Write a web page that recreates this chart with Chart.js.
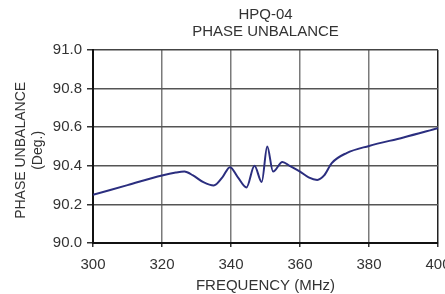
<!DOCTYPE html>
<html>
<head>
<meta charset="utf-8">
<script src="https://cdn.jsdelivr.net/npm/chart.js@4.4.0/dist/chart.umd.min.js"></script>
<style>
  html, body { margin: 0; padding: 0; background: #fff; }
  canvas { display: block; }
</style>
</head>
<body>
<canvas id="chart" width="445" height="294"></canvas>
<script>
// frequency in MHz and phase unbalance in degrees
const freq = [300, 310, 320, 324, 326.5, 329, 332, 335, 337.5, 339.7, 342, 344.5, 346.8, 348.9, 350.5,
              352.2, 354.9, 357, 360, 362.5, 365, 367, 369.2, 373.5, 380, 390, 400];
const phase = [90.25, 90.30, 90.35, 90.365, 90.37, 90.35, 90.315, 90.298, 90.34, 90.393, 90.34, 90.288, 90.40, 90.316, 90.50,
               90.37, 90.42, 90.40, 90.37, 90.34, 90.327, 90.35, 90.414, 90.466, 90.503, 90.547, 90.595];

const xTicks = [300, 320, 340, 360, 380, 400];
const yTicks = [90.0, 90.2, 90.4, 90.6, 90.8, 91.0];

const points = freq.map((f, i) => ({ x: f, y: phase[i] }));
const fontName = "'Liberation Sans', Arial, sans-serif";
const textColor = '#333';

new Chart(document.getElementById('chart'), {
  type: 'line',
  data: {
    datasets: [{
      data: points,
      borderColor: '#2b2e7f',
      borderWidth: 2,
      pointRadius: 0,
      fill: false,
      cubicInterpolationMode: 'monotone'
    }]
  },
  options: {
    responsive: false,
    animation: false,
    layout: { padding: { left: 0, right: 7, top: 0, bottom: 0 } },
    plugins: {
      legend: { display: false },
      tooltip: { enabled: false },
      title: {
        display: true,
        fullSize: false,
        text: ['HPQ-04', 'PHASE UNBALANCE'],
        color: textColor,
        font: { family: fontName, size: 15, weight: 'normal', lineHeight: 17 / 15 },
        padding: { top: 6.5, bottom: 9.5 }
      }
    },
    scales: {
      x: {
        type: 'linear',
        min: 300,
        max: 400,
        afterBuildTicks: (s) => { s.ticks = xTicks.map(v => ({ value: v })); },
        afterFit: (s) => { s.height = 51; s.paddingLeft = 0; s.paddingRight = 0; },
        border: { color: '#111', width: 2 },
        grid: {
          color: (c) => c.tick && c.tick.value === 400 ? '#222' : '#7a7a7a',
          lineWidth: 1.5,
          tickLength: 4,
          tickColor: '#333'
        },
        ticks: {
          color: textColor,
          padding: 9,
          maxRotation: 0,
          font: { family: fontName, size: 15 },
          callback: (v) => String(v)
        },
        title: {
          display: true,
          text: 'FREQUENCY (MHz)',
          color: textColor,
          font: { family: fontName, size: 15, lineHeight: 1 },
          padding: { top: 0, bottom: 0.5 }
        }
      },
      y: {
        min: 90.0,
        max: 91.0,
        afterBuildTicks: (s) => { s.ticks = yTicks.map(v => ({ value: v })); },
        afterFit: (s) => { s.width = 93; s.paddingTop = 0; s.paddingBottom = 0; },
        border: { color: '#111', width: 2 },
        grid: {
          color: (c) => c.tick && c.tick.value === 91 ? '#444' : '#555',
          lineWidth: 1.5,
          tickLength: 6,
          tickColor: '#333'
        },
        ticks: {
          color: textColor,
          padding: 5,
          font: { family: fontName, size: 15 },
          callback: (v) => Number(v).toFixed(1)
        },
        title: {
          display: true,
          // trailing spaces nudge the rotated title a little lower, like the original
          text: ['PHASE UNBALANCE  ', '(Deg.)  '],
          color: textColor,
          font: { family: fontName, size: 14, lineHeight: 1.25 },
          padding: { top: 12, bottom: 0 }
        }
      }
    }
  }
});
</script>
</body>
</html>
